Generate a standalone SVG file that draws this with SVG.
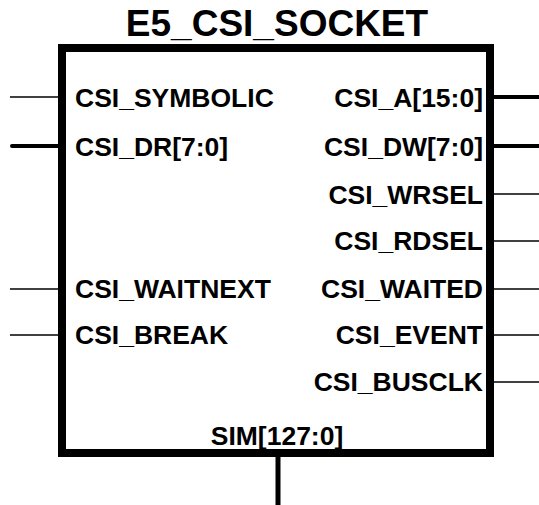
<svg xmlns="http://www.w3.org/2000/svg" width="539" height="505" viewBox="0 0 539 505">
<style>
text{font-family:"Liberation Sans",Arial,sans-serif;font-weight:bold;fill:#000}
.lbl{font-size:26.5px}
.r{text-anchor:end}
.title{font-size:37px;text-anchor:middle}
.thin{stroke:#000;stroke-width:1.5;fill:none}
.bus{stroke:#000;stroke-width:4;fill:none;stroke-linecap:round}
</style>
<rect width="539" height="505" fill="#fff"/>
<g id="connectors">
<line class="thin" x1="10" y1="97" x2="60" y2="97"/>
<line class="bus" x1="12" y1="146" x2="60" y2="146"/>
<line class="thin" x1="10" y1="289" x2="60" y2="289"/>
<line class="thin" x1="10" y1="335" x2="60" y2="335"/>
<line class="bus" x1="492" y1="97" x2="541" y2="97"/>
<line class="bus" x1="492" y1="146" x2="541" y2="146"/>
<line class="thin" x1="492" y1="194" x2="539" y2="194"/>
<line class="thin" x1="492" y1="241" x2="539" y2="241"/>
<line class="thin" x1="492" y1="289" x2="539" y2="289"/>
<line class="thin" x1="492" y1="335" x2="539" y2="335"/>
<line class="thin" x1="492" y1="382" x2="539" y2="382"/>
<line x1="278" y1="455" x2="278" y2="505" stroke="#000" stroke-width="5"/>
</g>
<g id="E5_CSI_SOCKET">
<text class="title" x="277" y="36">E5_CSI_SOCKET</text>
<rect x="62" y="48" width="428" height="405" fill="none" stroke="#000" stroke-width="8"/>
<text class="lbl" x="75" y="107">CSI_SYMBOLIC</text>
<text class="lbl" x="75" y="156">CSI_DR[7:0]</text>
<text class="lbl" x="75" y="298">CSI_WAITNEXT</text>
<text class="lbl" x="75" y="344">CSI_BREAK</text>
<text class="lbl r" x="483" y="107">CSI_A[15:0]</text>
<text class="lbl r" x="483" y="156">CSI_DW[7:0]</text>
<text class="lbl r" x="483" y="204">CSI_WRSEL</text>
<text class="lbl r" x="483" y="250">CSI_RDSEL</text>
<text class="lbl r" x="483" y="298">CSI_WAITED</text>
<text class="lbl r" x="483" y="344">CSI_EVENT</text>
<text class="lbl r" x="483" y="391">CSI_BUSCLK</text>
<text class="lbl" x="277" y="445" text-anchor="middle">SIM[127:0]</text>
</g>
</svg>
